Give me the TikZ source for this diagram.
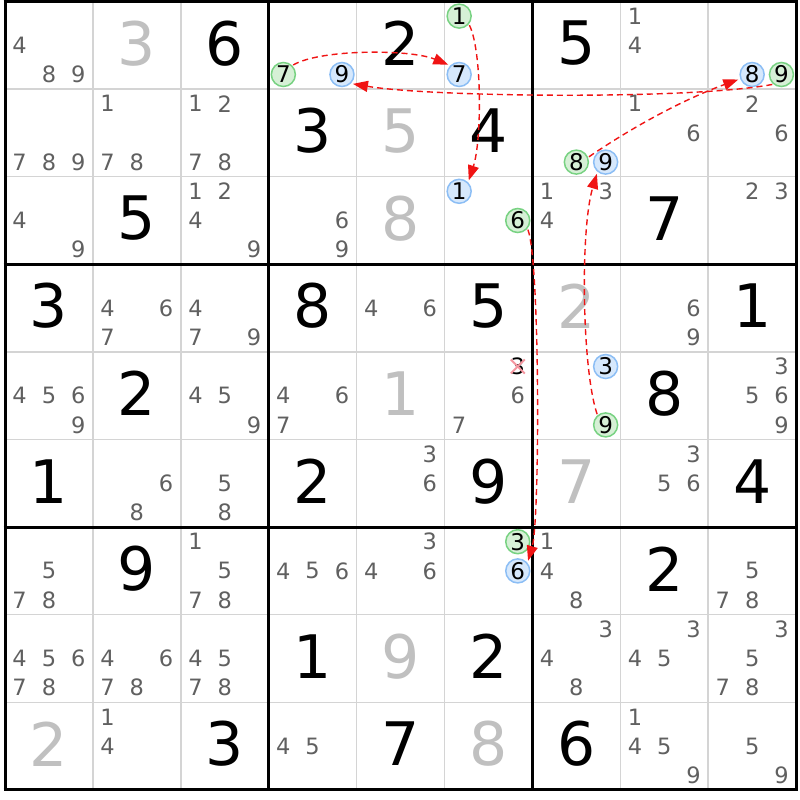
\documentclass[tikz,border=0pt]{standalone}
\usepackage{fontspec}
\setmainfont{DejaVu Sans}
\usetikzlibrary{arrows.meta}
\definecolor{candc}{RGB}{96,96,96}
\definecolor{solvc}{RGB}{192,192,192}
\definecolor{thinc}{RGB}{212,212,212}
\definecolor{gfill}{RGB}{214,240,214}
\definecolor{gline}{RGB}{120,210,130}
\definecolor{bfill}{RGB}{214,232,252}
\definecolor{bline}{RGB}{140,190,245}
\definecolor{chainred}{RGB}{240,20,20}
\definecolor{crossc}{RGB}{245,150,160}
\newcommand\givn[3]{\pgfmathsetmacro\gx{5+(#2-0.5)*87.9}\pgfmathsetmacro\gy{1.5+(#1-0.5)*87.6-2}\node[givend] (v#1#2) at (\gx,\gy) {#3};}
\newcommand\solvd[3]{\pgfmathsetmacro\gx{5+(#2-0.5)*87.9}\pgfmathsetmacro\gy{1.5+(#1-0.5)*87.6-2}\node[solvedd] (v#1#2) at (\gx,\gy) {#3};}
\newcommand\cands[3]{\foreach \dg in {#3}{\pgfmathsetmacro\px{5+(#2-1)*87.9+14.65+mod(\dg-1,3)*29.3}\pgfmathsetmacro\py{1.5+(#1-1)*87.6+14.6+floor((\dg-1)/3)*29.2}\node[cand] (k#1#2\dg) at (\px,\py) {\dg};}}
\newcommand\circd[5]{\pgfmathsetmacro\px{5+(#3-1)*87.9+14.65+mod(#4-1,3)*29.3}\pgfmathsetmacro\py{1.5+(#2-1)*87.6+14.6+floor((#4-1)/3)*29.2}\node[#1] (#5) at (\px,\py) {#4};}
\begin{document}
\begin{tikzpicture}[x=1pt,y=-1pt,
  bigd/.style={inner sep=0pt, font=\fontsize{60}{60}\selectfont},
  givend/.style={bigd, text=black},
  solvedd/.style={bigd, text=solvc},
  cand/.style={inner sep=0pt, text=candc, font=\fontsize{22.5}{22.5}\selectfont},
  circbase/.style={circle, line width=1.5pt, minimum size=24pt, inner sep=0pt, text=black, font=\fontsize{23}{23}\selectfont},
  gcirc/.style={circbase, draw=gline, fill=gfill},
  bcirc/.style={circbase, draw=bline, fill=bfill},
  chain/.style={draw=chainred, line width=1.4pt, dash pattern=on 6pt off 4pt, -{Triangle[length=15pt,width=11pt]}, shorten >=2pt, shorten <=1pt},
  thinline/.style={draw=thinc, line width=1.5pt},
  thickline/.style={draw=black, line width=3pt},
]
\fill[white] (0,0) rectangle (800,800);
\useasboundingbox (0,0) rectangle (800,800);
% grid
\foreach \i in {1,2,4,5,7,8}{
  \pgfmathsetmacro\gxx{5+\i*87.9}
  \pgfmathsetmacro\gyy{1.5+\i*87.6}
  \draw[thinline] (\gxx,1.5) -- (\gxx,789.9);
  \draw[thinline] (5,\gyy) -- (796.1,\gyy);
}
\foreach \i in {0,3,6,9}{
  \pgfmathsetmacro\gxx{5+\i*87.9}
  \pgfmathsetmacro\gyy{1.5+\i*87.6}
  \draw[thickline] (\gxx,0) -- (\gxx,791.4);
  \draw[thickline] (3.5,\gyy) -- (797.6,\gyy);
}
% row 1
\cands{1}{1}{4,8,9} \solvd{1}{2}{3} \givn{1}{3}{6}
\circd{gcirc}{1}{4}{7}{gA} \circd{bcirc}{1}{4}{9}{bC}
\givn{1}{5}{2}
\circd{gcirc}{1}{6}{1}{gB} \circd{bcirc}{1}{6}{7}{bA}
\givn{1}{7}{5} \cands{1}{8}{1,4}
\circd{bcirc}{1}{9}{8}{bD} \circd{gcirc}{1}{9}{9}{gC}
% row 2
\cands{2}{1}{7,8,9} \cands{2}{2}{1,7,8} \cands{2}{3}{1,2,7,8}
\givn{2}{4}{3} \solvd{2}{5}{5} \givn{2}{6}{4}
\circd{gcirc}{2}{7}{8}{gD} \circd{bcirc}{2}{7}{9}{bE}
\cands{2}{8}{1,6} \cands{2}{9}{2,6}
% row 3
\cands{3}{1}{4,9} \givn{3}{2}{5} \cands{3}{3}{1,2,4,9}
\cands{3}{4}{6,9} \solvd{3}{5}{8}
\circd{bcirc}{3}{6}{1}{bB} \circd{gcirc}{3}{6}{6}{gF}
\cands{3}{7}{1,3,4} \givn{3}{8}{7} \cands{3}{9}{2,3}
% row 4
\givn{4}{1}{3} \cands{4}{2}{4,6,7} \cands{4}{3}{4,7,9}
\givn{4}{4}{8} \cands{4}{5}{4,6} \givn{4}{6}{5}
\solvd{4}{7}{2} \cands{4}{8}{6,9} \givn{4}{9}{1}
% row 5
\cands{5}{1}{4,5,6,9} \givn{5}{2}{2} \cands{5}{3}{4,5,9}
\cands{5}{4}{4,6,7} \solvd{5}{5}{1} \cands{5}{6}{6,7}
\node[cand, text=black] (x563) at (517.75,366.5) {3};
\draw[crossc, line width=2pt] ([shift={(-7,-7)}]x563.center) -- ([shift={(7,7)}]x563.center);
\draw[crossc, line width=2pt] ([shift={(-7,7)}]x563.center) -- ([shift={(7,-7)}]x563.center);
\circd{bcirc}{5}{7}{3}{bG} \circd{gcirc}{5}{7}{9}{gE}
\givn{5}{8}{8} \cands{5}{9}{3,5,6,9}
% row 6
\givn{6}{1}{1} \cands{6}{2}{6,8} \cands{6}{3}{5,8}
\givn{6}{4}{2} \cands{6}{5}{3,6} \givn{6}{6}{9}
\solvd{6}{7}{7} \cands{6}{8}{3,5,6} \givn{6}{9}{4}
% row 7
\cands{7}{1}{5,7,8} \givn{7}{2}{9} \cands{7}{3}{1,5,7,8}
\cands{7}{4}{4,5,6} \cands{7}{5}{3,4,6}
\circd{gcirc}{7}{6}{3}{gG} \circd{bcirc}{7}{6}{6}{bF}
\cands{7}{7}{1,4,8} \givn{7}{8}{2} \cands{7}{9}{5,7,8}
% row 8
\cands{8}{1}{4,5,6,7,8} \cands{8}{2}{4,6,7,8} \cands{8}{3}{4,5,7,8}
\givn{8}{4}{1} \solvd{8}{5}{9} \givn{8}{6}{2}
\cands{8}{7}{3,4,8} \cands{8}{8}{3,4,5} \cands{8}{9}{3,5,7,8}
% row 9
\solvd{9}{1}{2} \cands{9}{2}{1,4} \givn{9}{3}{3}
\cands{9}{4}{4,5} \givn{9}{5}{7} \solvd{9}{6}{8}
\givn{9}{7}{6} \cands{9}{8}{1,4,5,9} \cands{9}{9}{5,9}
% chain
\draw[chain] (gA.45) .. controls (320,49) and (410,49) .. (bA.135);
\draw[chain] (gB.-40) .. controls (482,50) and (482,140) .. (bB.45);
\draw[chain] (gC.230) .. controls (690,100) and (430,97) .. (bC.-45);
\draw[chain] (gD.22) .. controls (640,122) and (690,97) .. (bD.200);
\draw[chain] (gE.130) .. controls (582,370) and (580,230) .. (bE.230);
\draw[chain] (gF.-40) .. controls (540,260) and (540,520) .. (bF.40);
\end{tikzpicture}
\end{document}
